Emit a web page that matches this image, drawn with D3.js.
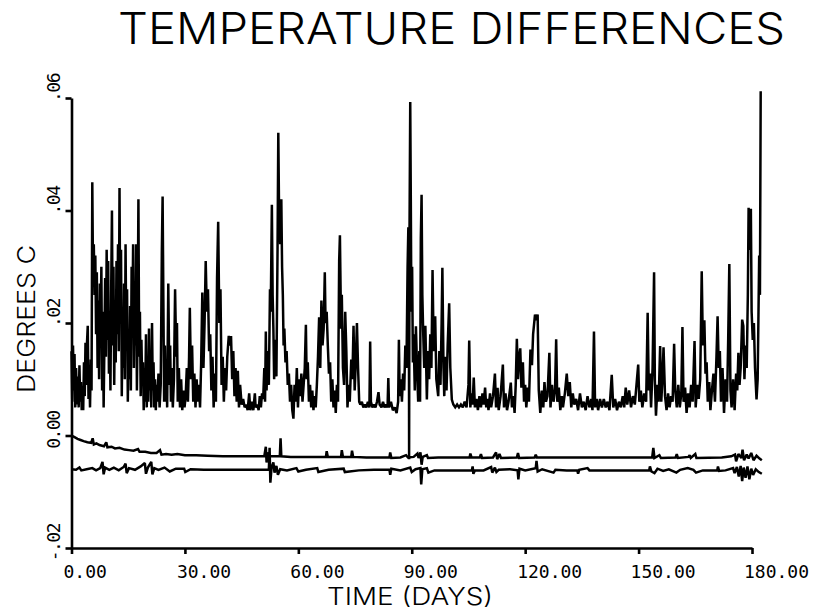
<!DOCTYPE html>
<html lang="en">
<head>
<meta charset="utf-8">
<title>Temperature Differences</title>
<script src="https://d3js.org/d3.v7.min.js"></script>
<style>
  body { margin: 0; background: #fff; }
  svg { display: block; }
  .tick-label { font-family: "DejaVu Sans Mono", monospace; font-size: 18px; fill: #000; }
  .big-label { font-family: "Inter", "DejaVu Sans", sans-serif; font-weight: 300; fill: #000; }
</style>
</head>
<body>
<svg id="chart"></svg>
<script>
// ---- data ----
const xTicks = [0, 30, 60, 90, 120, 150, 180];
const xTickLabels = ["0.00", "30.00", "60.00", "90.00", "120.00", "150.00", "180.00"];
const yTicks = [-0.02, 0, 0.02, 0.04, 0.06];
const yTickLabels = ["-.02", "0.00", ".02", ".04", ".06"];

// upper trace: [day, degrees C]
const upperTrace = [
  [0,.015],[0.2,.006],[0.4,.016],[0.6,.008],[0.8,.0145],[1.0,.005],[1.2,.012],[1.5,.0055],[1.7,.0105],[1.9,.005],
  [2.1,.0125],[2.3,.006],[2.5,.0095],[2.7,.0045],[2.9,.0075],[3.1,.0045],[3.3,.013],[3.5,.007],[3.7,.0165],[3.9,.009],
  [4.1,.0165],[4.3,.0195],[4.5,.0065],[4.7,.012],[4.9,.005],[5.1,.0135],[5.3,.008],[5.5,.045],[5.7,.028],[5.9,.034],
  [6.1,.025],[6.3,.032],[6.5,.018],[6.7,.029],[6.9,.012],[7.1,.024],[7.3,.010],[7.5,.027],[7.7,.018],[7.9,.030],
  [8.1,.008],[8.3,.022],[8.5,.005],[8.7,.016],[8.9,.028],[9.1,.014],[9.3,.033],[9.5,.017],[9.7,.031],[9.9,.011],
  [10.1,.020],[10.3,.008],[10.5,.026],[10.7,.040],[10.9,.016],[11.1,.030],[11.3,.009],[11.5,.024],[11.7,.013],[11.9,.031],
  [12.1,.018],[12.3,.034],[12.5,.015],[12.7,.044],[12.9,.020],[13.1,.033],[13.3,.007],[13.5,.021],[13.7,.012],[13.9,.027],
  [14.1,.010],[14.3,.034],[14.5,.016],[14.7,.026],[14.9,.006],[15.1,.018],[15.3,.010],[15.5,.023],[15.7,.008],[15.9,.030],
  [16.1,.020],[16.3,.034],[16.5,.012],[16.7,.025],[16.9,.016],[17.1,.034],[17.3,.008],[17.5,.020],[17.7,.042],[17.9,.014],
  [18.1,.022],[18.3,.007],[18.5,.017],[18.7,.009],[18.9,.013],[19.1,.0045],[19.3,.012],[19.5,.006],[19.7,.018],[19.9,.005],
  [20.1,.011],[20.3,.006],[20.5,.019],[20.7,.008],[20.9,.013],[21.1,.005],[21.3,.020],[21.5,.008],[21.7,.013],[21.9,.005],
  [22.1,.010],[22.3,.0045],[22.5,.009],[22.7,.006],[23.0,.011],[23.3,.005],[23.6,.009],[23.9,.033],[24.1,.0425],[24.3,.024],
  [24.5,.006],[24.7,.016],[24.9,.006],[25.1,.013],[25.3,.005],[25.6,.027],[25.9,.009],[26.1,.016],[26.3,.006],[26.5,.012],
  [26.8,.005],[27.1,.010],[27.4,.026],[27.7,.014],[27.9,.020],[28.1,.006],[28.4,.012],[28.7,.005],[29.0,.010],[29.3,.0045],
  [29.6,.008],[29.9,.005],[30.2,.007],[30.5,.012],[30.8,.006],[31.1,.014],[31.3,.0227],[31.6,.010],[31.9,.016],[32.2,.006],
  [32.5,.011],[32.8,.005],[33.1,.010],[33.4,.006],[33.7,.009],[34.0,.005],[34.3,.013],[34.6,.0254],[34.9,.012],[35.2,.020],
  [35.5,.031],[35.8,.022],[36.1,.026],[36.4,.015],[36.7,.018],[37.0,.008],[37.3,.014],[37.6,.005],[37.9,.011],[38.2,.006],
  [38.5,.028],[38.8,.038],[39.1,.020],[39.4,.026],[39.7,.009],[40.0,.014],[40.3,.006],[40.6,.012],[40.9,.008],[41.2,.014],
  [41.6,.0177],[41.9,.016],[42.2,.0177],[42.5,.010],[42.8,.015],[43.1,.007],[43.4,.012],[43.7,.006],[44.0,.0115],[44.3,.005],
  [44.6,.009],[45.0,.0055],[45.4,.0065],[45.8,.005],[46.2,.0055],[46.6,.0045],[47.0,.0075],[47.3,.0045],[47.7,.006],[48.1,.0045],
  [48.5,.0075],[48.7,.005],[49.1,.0055],[49.5,.0045],[49.8,.007],[50.1,.005],[50.4,.0075],[50.7,.0065],[51.0,.012],[51.2,.006],
  [51.4,.0185],[51.6,.008],[51.9,.015],[52.2,.009],[52.5,.026],[52.7,.022],[53.0,.041],[53.2,.025],[53.4,.019],[53.6,.010],
  [53.8,.017],[54.0,.013],[54.2,.0105],[54.5,.033],[54.7,.0538],[54.9,.040],[55.2,.034],[55.5,.042],[55.7,.030],[55.9,.025],
  [56.1,.016],[56.3,.019],[56.6,.013],[56.9,.015],[57.2,.009],[57.5,.011],[57.8,.006],[58.1,.009],[58.4,.0045],[58.7,.003],
  [59.0,.009],[59.3,.006],[59.6,.012],[59.9,.005],[60.2,.010],[60.5,.007],[60.8,.011],[61.1,.006],[61.4,.009],[61.7,.012],
  [62.0,.0197],[62.2,.010],[62.5,.013],[62.8,.006],[63.1,.009],[63.4,.005],[63.7,.008],[64.0,.0045],[64.3,.007],[64.6,.005],
  [64.9,.009],[65.2,.014],[65.5,.021],[65.8,.012],[66.1,.024],[66.4,.016],[66.7,.019],[67.0,.029],[67.2,.020],[67.5,.022],
  [67.8,.016],[68.1,.011],[68.4,.013],[68.7,.006],[69.0,.010],[69.3,.005],[69.6,.008],[69.9,.004],[70.2,.009],[70.5,.006],
  [70.8,.031],[71.0,.0356],[71.3,.019],[71.5,.025],[71.8,.012],[72.1,.009],[72.4,.022],[72.7,.015],[73.0,.005],[73.3,.009],
  [73.6,.006],[74.0,.0135],[74.3,.010],[74.6,.0195],[74.9,.008],[75.2,.013],[75.5,.020],[75.8,.012],[76.1,.006],[76.4,.0055],
  [76.8,.006],[77.2,.005],[77.6,.0055],[78.0,.005],[78.4,.006],[78.8,.005],[79.0,.0167],[79.2,.006],[79.6,.005],[80.0,.0055],
  [80.4,.005],[80.8,.006],[81.2,.0077],[81.5,.0055],[82.0,.005],[82.4,.006],[82.8,.005],[83.2,.0055],[83.6,.005],[83.8,.0102],
  [84.0,.005],[84.5,.006],[85.0,.0045],[85.5,.005],[86.0,.004],[86.4,.006],[86.6,.017],[86.8,.007],[87.1,.010],[87.4,.006],
  [87.7,.011],[88.0,.008],[88.3,.016],[88.6,.012],[88.9,.030],[89.1,.037],[89.25,.022],[89.3,-.0042],[89.4,.035],[89.6,.0593],
  [89.75,.042],[89.9,.022],[90.1,.030],[90.3,.013],[90.5,.018],[90.8,.008],[91.1,.0194],[91.4,.012],[91.7,.006],[92.0,.015],
  [92.2,.006],[92.4,.035],[92.6,.0428],[92.8,.025],[93.0,.019],[93.3,.012],[93.6,.0195],[94.0,.0064],[94.3,.015],[94.6,.010],
  [94.9,.018],[95.2,.012],[95.5,.0294],[95.8,.015],[96.2,.0212],[96.5,.010],[97.0,.007],[97.3,.015],[97.6,.009],[97.9,.020],
  [98.1,.0298],[98.4,.012],[98.6,.007],[98.9,.014],[99.2,.008],[99.5,.016],[99.9,.0235],[100.2,.012],[100.6,.0064],[101.0,.0055],
  [101.5,.005],[102.0,.0055],[102.5,.005],[103.0,.0055],[103.5,.005],[104.0,.006],[104.5,.005],[105.0,.009],[105.2,.0169],[105.5,.005],
  [105.8,.0075],[106.1,.0055],[106.4,.0103],[106.7,.005],[107.1,.0065],[107.5,.0045],[107.9,.007],[108.3,.005],[108.7,.0075],[109.0,.0055],
  [109.4,.0085],[109.7,.005],[110.0,.0065],[110.3,.0045],[110.7,.0075],[111.0,.005],[111.5,.007],[112.0,.011],[112.3,.005],[112.7,.0085],
  [113.0,.0045],[113.5,.007],[114.1,.0126],[114.4,.005],[114.8,.0075],[115.2,.0045],[115.6,.006],[116.2,.0094],[116.5,.005],[116.9,.007],
  [117.2,.004],[117.5,.009],[117.8,.0172],[118.1,.010],[118.4,.014],[118.7,.0155],[119.0,.0085],[119.4,.013],[119.7,.006],[120.0,.009],
  [120.3,.005],[120.7,.0085],[121.0,.006],[121.4,.0153],[121.8,.0125],[122.1,.018],[122.6,.0215],[123.0,.0205],[123.3,.0215],[123.6,.008],
  [124.0,.004],[124.4,.008],[124.8,.005],[125.1,.0095],[125.5,.006],[125.9,.007],[126.4,.0147],[126.7,.005],[127.1,.009],[127.5,.006],
  [127.9,.008],[128.2,.0171],[128.5,.006],[128.9,.0085],[129.3,.0045],[129.7,.007],[130.0,.005],[130.5,.0075],[131.0,.011],[131.4,.007],
  [131.8,.0095],[132.2,.005],[132.6,.0075],[133.0,.0055],[133.5,.0065],[134.0,.0045],[134.5,.0075],[135.0,.005],[135.5,.006],[136.0,.0045],
  [136.5,.007],[137.0,.005],[137.5,.0065],[137.8,.0045],[138.2,.0185],[138.5,.005],[138.9,.0065],[139.3,.0045],[139.8,.0065],[140.3,.005],
  [140.8,.0065],[141.3,.005],[141.8,.006],[142.3,.0045],[142.9,.0108],[143.3,.005],[143.8,.0065],[144.3,.0045],[144.8,.006],[145.3,.005],
  [145.8,.007],[146.2,.005],[146.6,.0085],[147.0,.0055],[147.5,.008],[148.0,.005],[148.5,.007],[149.0,.0055],[149.9,.0126],[150.2,.006],
  [150.6,.008],[151.0,.005],[151.5,.0075],[152.0,.006],[152.4,.0218],[152.7,.008],[153.0,.011],[153.3,.005],[153.7,.012],[154.1,.029],
  [154.3,.010],[154.6,.0035],[155.0,.009],[155.3,.006],[155.7,.0159],[156.0,.006],[156.3,.010],[156.6,.0157],[157.0,.007],[157.4,.0045],
  [157.8,.0075],[158.2,.005],[158.6,.007],[159.0,.006],[159.4,.0163],[159.7,.008],[160.1,.005],[160.5,.009],[160.9,.005],[161.3,.0075],
  [161.6,.0193],[161.9,.006],[162.3,.0085],[162.7,.004],[163.1,.0075],[163.5,.005],[163.9,.009],[164.3,.006],[164.8,.0168],[165.1,.005],
  [165.5,.009],[165.9,.0065],[166.3,.010],[166.7,.0292],[167.0,.016],[167.4,.0205],[167.7,.011],[168.0,.013],[168.3,.006],[168.7,.0095],
  [169.0,.0045],[169.4,.008],[169.8,.011],[170.2,.006],[170.6,.014],[170.9,.0212],[171.2,.012],[171.5,.015],[171.8,.006],[172.2,.012],
  [172.6,.004],[173.0,.010],[173.4,.006],[173.7,.017],[174.0,.0305],[174.3,.008],[174.6,.005],[175.0,.010],[175.4,.0045],[175.8,.011],
  [176.1,.008],[176.4,.0147],[176.7,.009],[177.0,.012],[177.4,.0206],[177.7,.0195],[178.0,.010],[178.3,.016],[178.6,.012],[178.9,.025],
  [179.1,.0405],[179.4,.033],[179.7,.0403],[179.9,.022],[180.2,.017],[180.5,.020],[180.8,.012],[181.2,.0064],[181.5,.010],[181.9,.032],
  [182.1,.025],[182.3,.0612]
];

// middle trace: [day, degrees C]
const middleTrace = [
  [0,0],[0.8,-.0003],[1.6,-.0006],[2.4,-.0008],[3.2,-.0010],[4.2,-.0012],[5.2,-.0013],[5.6,-.0005],[5.9,-.0016],[6.6,-.0014],
  [7.4,-.0017],[8.6,-.0019],[9.2,-.0012],[9.5,-.0021],[10.6,-.0020],[11.5,-.0023],[12.7,-.0022],[14,-.0025],[15.2,-.0026],[16.4,-.0027],
  [17.6,-.0024],[18,-.0029],[19.5,-.0029],[21,-.0031],[22.5,-.0031],[23.4,-.0026],[23.8,-.0034],[25,-.0033],[26.5,-.0034],[28,-.0033],
  [30,-.0035],[33,-.0035],[36,-.0036],[40,-.0037],[44,-.0037],[48,-.0037],[51.0,-.0037],[51.4,-.0020],[51.6,-.0048],[51.9,-.0030],
  [52.3,-.0037],[55.1,-.0037],[55.3,-.0005],[55.5,-.0037],[58,-.0038],[62,-.0038],[67.3,-.0038],[67.5,-.0028],[67.8,-.0038],[71.3,-.0038],
  [71.5,-.0026],[71.8,-.0038],[74,-.0038],[74.2,-.0027],[74.5,-.0038],[78,-.0039],[84.1,-.0039],[84.3,-.0030],[84.6,-.0040],[87,-.0039],
  [88.5,-.0035],[89,-.0039],[90.5,-.0038],[91.5,-.0032],[91.8,-.0040],[92.3,-.0030],[92.6,-.0052],[92.9,-.0038],[94,-.0035],[94.3,-.0040],
  [97,-.0039],[100,-.0039],[105.3,-.0039],[105.5,-.0032],[105.8,-.0039],[108,-.0039],[108.3,-.0033],[108.6,-.0040],[111.5,-.0039],[112.3,-.0030],
  [112.6,-.0042],[113.2,-.0033],[113.6,-.0040],[117.8,-.0039],[118.1,-.0031],[118.4,-.0040],[122.5,-.0039],[122.8,-.0034],[123.1,-.0039],[131,-.0039],
  [134,-.0039],[144,-.0039],[151,-.0039],[153.6,-.0039],[153.9,-.0022],[154.2,-.0040],[155.5,-.0035],[155.9,-.0040],[159.8,-.0039],[160.1,-.0033],
  [160.4,-.0040],[163.2,-.0038],[163.5,-.0035],[163.8,-.0040],[165,-.0033],[165.3,-.0040],[172,-.0039],[174.5,-.0037],[175.5,-.0034],[175.8,-.0046],
  [176.4,-.0033],[177.2,-.0040],[177.5,-.0025],[177.9,-.0044],[178.6,-.0034],[179.1,-.0041],[179.8,-.0031],[180.4,-.0044],[181.2,-.0036],[182,-.0041],
  [182.6,-.0044]
];

// lower trace: [day, degrees C]
const lowerTrace = [
  [0,-.0060],[1.2,-.0061],[2.1,-.0057],[2.6,-.0062],[4,-.0060],[5.5,-.0058],[6.5,-.0062],[7.6,-.0058],[8.2,-.0047],[8.5,-.0069],
  [8.9,-.0057],[10,-.0061],[11.2,-.0057],[12.5,-.0062],[13.8,-.0056],[14.3,-.0050],[14.6,-.0067],[15.2,-.0058],[16.8,-.0061],[18.3,-.0055],
  [19.4,-.0049],[19.7,-.0068],[20.2,-.0057],[21.1,-.0047],[21.4,-.0069],[21.9,-.0058],[23,-.0061],[24.6,-.0057],[26,-.0064],[27.6,-.0059],
  [29.8,-.0059],[30.1,-.0065],[31.5,-.0060],[35,-.0061],[40,-.0061],[45,-.0061],[50,-.0061],[52.2,-.0061],[52.4,-.0022],[52.6,-.0084],
  [52.9,-.0058],[53.4,-.0048],[53.7,-.0066],[54.2,-.0054],[54.6,-.0070],[55.2,-.0060],[57,-.0062],[59.5,-.0058],[60,-.0064],[62,-.0061],
  [65,-.0058],[65.3,-.0065],[68,-.0061],[72,-.0059],[72.3,-.0065],[76,-.0062],[80,-.0061],[84.1,-.0061],[84.3,-.0070],[84.6,-.0059],
  [87,-.0062],[89.6,-.0057],[90,-.0065],[91,-.0060],[92.3,-.0058],[92.5,-.0087],[92.8,-.0060],[94,-.0058],[94.4,-.0066],[96,-.0062],
  [100,-.0062],[105.9,-.0062],[106.1,-.0055],[106.3,-.0068],[106.7,-.0062],[109,-.0062],[111,-.0056],[111.3,-.0066],[112,-.0057],[112.4,-.0065],
  [113,-.0061],[116,-.0060],[118,-.0062],[118.2,-.0078],[118.5,-.0059],[120,-.0062],[122.8,-.0058],[123,-.0045],[123.3,-.0064],[124.5,-.0060],
  [127.5,-.0066],[128,-.0061],[131,-.0062],[133.8,-.0062],[134,-.0068],[134.3,-.0061],[136.5,-.0058],[137,-.0062],[141,-.0062],[145,-.0062],
  [150,-.0062],[152.8,-.0062],[153,-.0055],[153.4,-.0064],[154.2,-.0067],[155,-.0059],[156.5,-.0063],[158,-.0060],[160,-.0066],[161,-.0061],
  [163,-.0058],[164.5,-.0061],[165.2,-.0066],[167,-.0062],[170.8,-.0062],[171,-.0055],[171.3,-.0063],[173,-.0062],[175,-.0058],[175.4,-.0067],
  [176,-.0056],[176.5,-.0073],[177,-.0054],[177.4,-.0081],[177.8,-.0057],[178.3,-.0075],[178.8,-.0055],[179.3,-.0078],[179.8,-.0059],[180.3,-.0070],
  [181,-.0060],[181.8,-.0065],[182.6,-.0068]
];

let width = 813,
    height = 610,
    margin = {top: 98, right: 61, bottom: 62, left: 71.5};

let svg = d3.select("#chart")
    .attr("width", width)
    .attr("height", height);

let x = d3.scaleLinear()
    .domain([0, 180])
    .range([margin.left, width - margin.right]);

let y = d3.scaleLinear()
    .domain([-0.02, 0.06])
    .range([height - margin.bottom, margin.top]);

// title
svg.append("text")
    .attr("class", "big-label")
    .attr("x", 118)
    .attr("y", 44)
    .attr("font-size", 44)
    .attr("textLength", 667)
    .attr("lengthAdjust", "spacingAndGlyphs")
    .text("TEMPERATURE DIFFERENCES");

// axes
let xAxis = d3.axisBottom(x)
    .tickValues(xTicks)
    .tickFormat("")
    .tickSize(6)
    .tickSizeOuter(0);

let yAxis = d3.axisLeft(y)
    .tickValues(yTicks)
    .tickFormat("")
    .tickSize(6)
    .tickSizeOuter(0);

svg.append("g")
    .attr("transform", `translate(0,${y(-0.02)})`)
    .call(xAxis)
    .call(g => g.selectAll("path, line").attr("stroke", "#000").attr("stroke-width", 2.6));

svg.append("g")
    .attr("transform", `translate(${x(0)},0)`)
    .call(yAxis)
    .call(g => g.selectAll("path, line").attr("stroke", "#000").attr("stroke-width", 2.6));

// tick labels
svg.append("g")
    .selectAll("text")
    .data(xTicks)
    .join("text")
    .attr("class", "tick-label")
    .attr("x", d => x(d) - 8)
    .attr("y", 578)
    .text((d, i) => xTickLabels[i]);

svg.append("g")
    .selectAll("text")
    .data(yTicks)
    .join("text")
    .attr("class", "tick-label")
    .attr("text-anchor", "end")
    .attr("letter-spacing", -1.5)
    .attr("transform", d => `translate(60,${y(d) - 24}) rotate(-90)`)
    .text((d, i) => yTickLabels[i]);

// axis titles
svg.append("text")
    .attr("class", "big-label")
    .attr("x", 327)
    .attr("y", 605)
    .attr("font-size", 24)
    .attr("textLength", 166)
    .attr("lengthAdjust", "spacingAndGlyphs")
    .text("TIME (DAYS)");

svg.append("text")
    .attr("class", "big-label")
    .attr("transform", "translate(35,393) rotate(-90)")
    .attr("font-size", 24)
    .attr("textLength", 148)
    .attr("lengthAdjust", "spacingAndGlyphs")
    .text("DEGREES C");

// traces
let line = d3.line()
    .x(d => x(d[0]))
    .y(d => y(d[1]));

[upperTrace, middleTrace, lowerTrace].forEach(series => {
    svg.append("path")
        .datum(series)
        .attr("fill", "none")
        .attr("stroke", "#000")
        .attr("stroke-width", 2.5)
        .attr("stroke-linejoin", "miter")
        .attr("stroke-miterlimit", 2)
        .attr("d", line);
});
</script>
</body>
</html>
